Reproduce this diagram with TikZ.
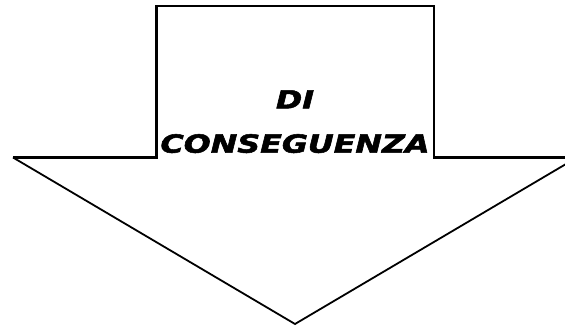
\documentclass[tikz,border=0pt]{standalone}
\usepackage{fontspec}
\setmainfont{DejaVu Sans}
\newfontfamily\heavyfont{DejaVu Sans Bold Oblique}[FakeBold=2]
\tikzset{
  outline/.style={line width=2.8pt, line join=miter},
  slant/.style={line width=1.8pt, line cap=butt},
  lbl/.style={anchor=base, inner sep=0pt, font=\fontsize{25}{30}\heavyfont}
}
\begin{document}
\begin{tikzpicture}[x=1pt,y=-1pt]
\useasboundingbox (0,0) rectangle (565,328);
\clip (0,0) rectangle (565,328);
\coordinate (tl) at (156.5,6);
\coordinate (tr) at (434,6);
\coordinate (br) at (434,157.5);
\coordinate (hr) at (577,157.5);
\coordinate (tip) at (295,324);
\coordinate (hl) at (13,157.5);
\coordinate (bl) at (156.5,157.5);
\draw[outline] (hl) -- (bl) -- (tl) -- (tr) -- (br) -- (hr);
\draw[slant] (hl) -- (tip) -- (hr);
\node[lbl] (l1) at (295,108.5) {\scalebox{1.27}[1]{DI}};
\node[lbl] (l2) at (295,152.7) {\scalebox{1.27}[1]{CONSEGUENZA}};
\end{tikzpicture}
\end{document}
